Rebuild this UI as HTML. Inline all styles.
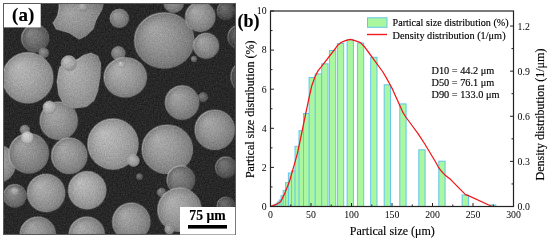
<!DOCTYPE html>
<html><head><meta charset="utf-8"><style>
html,body{margin:0;padding:0;background:#fff;width:550px;height:242px;overflow:hidden}
svg{display:block;will-change:transform}
text{font-family:"Liberation Serif",serif;fill:#000;stroke:#000;stroke-width:0.15px}
.tl text{stroke:none;font-size:9.8px}
.bar{fill:#aaf7a0;stroke:#62c6ef;stroke-width:1}
</style></head><body>
<svg width="550" height="242" viewBox="0 0 550 242">
<defs>
<filter id="grain" x="0" y="0" width="1" height="1" color-interpolation-filters="sRGB"><feTurbulence type="fractalNoise" baseFrequency="0.75" numOctaves="2" seed="5" result="n"/><feColorMatrix in="n" type="matrix" values="0.33 0.33 0.33 0 0  0.33 0.33 0.33 0 0  0.33 0.33 0.33 0 0  0 0 0 0 1" result="g"/><feComposite in="SourceGraphic" in2="g" operator="arithmetic" k1="0" k2="1" k3="0.35" k4="-0.175"/></filter><clipPath id="semclip"><rect x="3.5" y="3.5" width="232" height="231"/></clipPath>
<linearGradient id="rim" x1="0" y1="0" x2="1" y2="1"><stop offset="0" stop-color="#fff" stop-opacity="0.45"/><stop offset="0.5" stop-color="#fff" stop-opacity="0.12"/><stop offset="1" stop-color="#000" stop-opacity="0.2"/></linearGradient><radialGradient id="g0" cx="0.5" cy="0.5" r="0.6" fx="0.3" fy="0.3"><stop offset="0" stop-color="#a4a4a4"/><stop offset="0.5" stop-color="#929292"/><stop offset="0.85" stop-color="#7e7e7e"/><stop offset="1" stop-color="#6e6e6e"/></radialGradient><radialGradient id="g1" cx="0.5" cy="0.5" r="0.5" fx="0.3" fy="0.28"><stop offset="0" stop-color="#b8b8b8"/><stop offset="0.5" stop-color="#a6a6a6"/><stop offset="0.85" stop-color="#929292"/><stop offset="1" stop-color="#828282"/></radialGradient><radialGradient id="g2" cx="0.5" cy="0.5" r="0.5" fx="0.3" fy="0.28"><stop offset="0" stop-color="#848484"/><stop offset="0.5" stop-color="#727272"/><stop offset="0.85" stop-color="#5e5e5e"/><stop offset="1" stop-color="#4e4e4e"/></radialGradient><radialGradient id="g3" cx="0.5" cy="0.5" r="0.5" fx="0.3" fy="0.28"><stop offset="0" stop-color="#909090"/><stop offset="0.5" stop-color="#7e7e7e"/><stop offset="0.85" stop-color="#6a6a6a"/><stop offset="1" stop-color="#5a5a5a"/></radialGradient><radialGradient id="g4" cx="0.5" cy="0.5" r="0.5" fx="0.3" fy="0.28"><stop offset="0" stop-color="#b8b8b8"/><stop offset="0.5" stop-color="#a6a6a6"/><stop offset="0.85" stop-color="#929292"/><stop offset="1" stop-color="#828282"/></radialGradient><radialGradient id="g5" cx="0.5" cy="0.5" r="0.5" fx="0.3" fy="0.28"><stop offset="0" stop-color="#a8a8a8"/><stop offset="0.5" stop-color="#969696"/><stop offset="0.85" stop-color="#828282"/><stop offset="1" stop-color="#727272"/></radialGradient><radialGradient id="g6" cx="0.5" cy="0.5" r="0.5" fx="0.3" fy="0.28"><stop offset="0" stop-color="#c8c8c8"/><stop offset="0.5" stop-color="#b6b6b6"/><stop offset="0.85" stop-color="#a2a2a2"/><stop offset="1" stop-color="#929292"/></radialGradient><radialGradient id="g7" cx="0.5" cy="0.5" r="0.6" fx="0.3" fy="0.3"><stop offset="0" stop-color="#b2b2b2"/><stop offset="0.5" stop-color="#a0a0a0"/><stop offset="0.85" stop-color="#8c8c8c"/><stop offset="1" stop-color="#7c7c7c"/></radialGradient><radialGradient id="g8" cx="0.5" cy="0.5" r="0.5" fx="0.3" fy="0.28"><stop offset="0" stop-color="#c0c0c0"/><stop offset="0.5" stop-color="#aeaeae"/><stop offset="0.85" stop-color="#9a9a9a"/><stop offset="1" stop-color="#8a8a8a"/></radialGradient><radialGradient id="g9" cx="0.5" cy="0.5" r="0.5" fx="0.3" fy="0.28"><stop offset="0" stop-color="#9c9c9c"/><stop offset="0.5" stop-color="#8a8a8a"/><stop offset="0.85" stop-color="#767676"/><stop offset="1" stop-color="#666666"/></radialGradient><radialGradient id="g10" cx="0.5" cy="0.5" r="0.5" fx="0.3" fy="0.28"><stop offset="0" stop-color="#989898"/><stop offset="0.5" stop-color="#868686"/><stop offset="0.85" stop-color="#727272"/><stop offset="1" stop-color="#626262"/></radialGradient><radialGradient id="g11" cx="0.5" cy="0.5" r="0.5" fx="0.3" fy="0.28"><stop offset="0" stop-color="#9c9c9c"/><stop offset="0.5" stop-color="#8a8a8a"/><stop offset="0.85" stop-color="#767676"/><stop offset="1" stop-color="#666666"/></radialGradient><radialGradient id="g12" cx="0.5" cy="0.5" r="0.5" fx="0.3" fy="0.28"><stop offset="0" stop-color="#a6a6a6"/><stop offset="0.5" stop-color="#949494"/><stop offset="0.85" stop-color="#808080"/><stop offset="1" stop-color="#707070"/></radialGradient><radialGradient id="g13" cx="0.5" cy="0.5" r="0.5" fx="0.3" fy="0.28"><stop offset="0" stop-color="#a8a8a8"/><stop offset="0.5" stop-color="#969696"/><stop offset="0.85" stop-color="#828282"/><stop offset="1" stop-color="#727272"/></radialGradient><radialGradient id="g14" cx="0.5" cy="0.5" r="0.5" fx="0.3" fy="0.28"><stop offset="0" stop-color="#a4a4a4"/><stop offset="0.5" stop-color="#929292"/><stop offset="0.85" stop-color="#7e7e7e"/><stop offset="1" stop-color="#6e6e6e"/></radialGradient><radialGradient id="g15" cx="0.5" cy="0.5" r="0.5" fx="0.3" fy="0.28"><stop offset="0" stop-color="#707070"/><stop offset="0.5" stop-color="#5e5e5e"/><stop offset="0.85" stop-color="#4a4a4a"/><stop offset="1" stop-color="#3a3a3a"/></radialGradient><radialGradient id="g16" cx="0.5" cy="0.5" r="0.5" fx="0.3" fy="0.28"><stop offset="0" stop-color="#686868"/><stop offset="0.5" stop-color="#565656"/><stop offset="0.85" stop-color="#424242"/><stop offset="1" stop-color="#323232"/></radialGradient><radialGradient id="g17" cx="0.5" cy="0.5" r="0.5" fx="0.3" fy="0.28"><stop offset="0" stop-color="#888888"/><stop offset="0.5" stop-color="#767676"/><stop offset="0.85" stop-color="#626262"/><stop offset="1" stop-color="#525252"/></radialGradient><radialGradient id="g18" cx="0.5" cy="0.5" r="0.5" fx="0.3" fy="0.28"><stop offset="0" stop-color="#b0b0b0"/><stop offset="0.5" stop-color="#9e9e9e"/><stop offset="0.85" stop-color="#8a8a8a"/><stop offset="1" stop-color="#7a7a7a"/></radialGradient><radialGradient id="g19" cx="0.5" cy="0.5" r="0.5" fx="0.3" fy="0.28"><stop offset="0" stop-color="#c8c8c8"/><stop offset="0.5" stop-color="#b6b6b6"/><stop offset="0.85" stop-color="#a2a2a2"/><stop offset="1" stop-color="#929292"/></radialGradient><radialGradient id="g20" cx="0.5" cy="0.5" r="0.5" fx="0.3" fy="0.28"><stop offset="0" stop-color="#a4a4a4"/><stop offset="0.5" stop-color="#929292"/><stop offset="0.85" stop-color="#7e7e7e"/><stop offset="1" stop-color="#6e6e6e"/></radialGradient><radialGradient id="g21" cx="0.5" cy="0.5" r="0.5" fx="0.3" fy="0.28"><stop offset="0" stop-color="#7e7e7e"/><stop offset="0.5" stop-color="#6c6c6c"/><stop offset="0.85" stop-color="#585858"/><stop offset="1" stop-color="#484848"/></radialGradient><radialGradient id="g22" cx="0.5" cy="0.5" r="0.5" fx="0.3" fy="0.28"><stop offset="0" stop-color="#707070"/><stop offset="0.5" stop-color="#5e5e5e"/><stop offset="0.85" stop-color="#4a4a4a"/><stop offset="1" stop-color="#3a3a3a"/></radialGradient><radialGradient id="g23" cx="0.5" cy="0.5" r="0.5" fx="0.3" fy="0.28"><stop offset="0" stop-color="#b0b0b0"/><stop offset="0.5" stop-color="#9e9e9e"/><stop offset="0.85" stop-color="#8a8a8a"/><stop offset="1" stop-color="#7a7a7a"/></radialGradient><radialGradient id="g24" cx="0.5" cy="0.5" r="0.5" fx="0.3" fy="0.28"><stop offset="0" stop-color="#989898"/><stop offset="0.5" stop-color="#868686"/><stop offset="0.85" stop-color="#727272"/><stop offset="1" stop-color="#626262"/></radialGradient><radialGradient id="g25" cx="0.5" cy="0.5" r="0.5" fx="0.3" fy="0.28"><stop offset="0" stop-color="#a2a2a2"/><stop offset="0.5" stop-color="#909090"/><stop offset="0.85" stop-color="#7c7c7c"/><stop offset="1" stop-color="#6c6c6c"/></radialGradient><radialGradient id="g26" cx="0.5" cy="0.5" r="0.5" fx="0.3" fy="0.28"><stop offset="0" stop-color="#d8d8d8"/><stop offset="0.5" stop-color="#c6c6c6"/><stop offset="0.85" stop-color="#b2b2b2"/><stop offset="1" stop-color="#a2a2a2"/></radialGradient><radialGradient id="g27" cx="0.5" cy="0.5" r="0.5" fx="0.3" fy="0.28"><stop offset="0" stop-color="#a8a8a8"/><stop offset="0.5" stop-color="#969696"/><stop offset="0.85" stop-color="#828282"/><stop offset="1" stop-color="#727272"/></radialGradient><radialGradient id="g28" cx="0.5" cy="0.5" r="0.5" fx="0.3" fy="0.28"><stop offset="0" stop-color="#bcbcbc"/><stop offset="0.5" stop-color="#aaaaaa"/><stop offset="0.85" stop-color="#969696"/><stop offset="1" stop-color="#868686"/></radialGradient><radialGradient id="g29" cx="0.5" cy="0.5" r="0.5" fx="0.3" fy="0.28"><stop offset="0" stop-color="#b8b8b8"/><stop offset="0.5" stop-color="#a6a6a6"/><stop offset="0.85" stop-color="#929292"/><stop offset="1" stop-color="#828282"/></radialGradient><radialGradient id="g30" cx="0.5" cy="0.5" r="0.5" fx="0.3" fy="0.28"><stop offset="0" stop-color="#acacac"/><stop offset="0.5" stop-color="#9a9a9a"/><stop offset="0.85" stop-color="#868686"/><stop offset="1" stop-color="#767676"/></radialGradient><radialGradient id="g31" cx="0.5" cy="0.5" r="0.5" fx="0.3" fy="0.28"><stop offset="0" stop-color="#a8a8a8"/><stop offset="0.5" stop-color="#969696"/><stop offset="0.85" stop-color="#828282"/><stop offset="1" stop-color="#727272"/></radialGradient><radialGradient id="g32" cx="0.5" cy="0.5" r="0.5" fx="0.3" fy="0.28"><stop offset="0" stop-color="#787878"/><stop offset="0.5" stop-color="#666666"/><stop offset="0.85" stop-color="#525252"/><stop offset="1" stop-color="#424242"/></radialGradient><radialGradient id="g33" cx="0.5" cy="0.5" r="0.5" fx="0.3" fy="0.28"><stop offset="0" stop-color="#8a8a8a"/><stop offset="0.5" stop-color="#787878"/><stop offset="0.85" stop-color="#646464"/><stop offset="1" stop-color="#545454"/></radialGradient><radialGradient id="g34" cx="0.5" cy="0.5" r="0.5" fx="0.3" fy="0.28"><stop offset="0" stop-color="#888888"/><stop offset="0.5" stop-color="#767676"/><stop offset="0.85" stop-color="#626262"/><stop offset="1" stop-color="#525252"/></radialGradient><radialGradient id="g35" cx="0.5" cy="0.5" r="0.5" fx="0.3" fy="0.28"><stop offset="0" stop-color="#787878"/><stop offset="0.5" stop-color="#666666"/><stop offset="0.85" stop-color="#525252"/><stop offset="1" stop-color="#424242"/></radialGradient><radialGradient id="g36" cx="0.5" cy="0.5" r="0.5" fx="0.3" fy="0.28"><stop offset="0" stop-color="#8e8e8e"/><stop offset="0.5" stop-color="#7c7c7c"/><stop offset="0.85" stop-color="#686868"/><stop offset="1" stop-color="#585858"/></radialGradient><radialGradient id="g37" cx="0.5" cy="0.5" r="0.5" fx="0.3" fy="0.28"><stop offset="0" stop-color="#b8b8b8"/><stop offset="0.5" stop-color="#a6a6a6"/><stop offset="0.85" stop-color="#929292"/><stop offset="1" stop-color="#828282"/></radialGradient><radialGradient id="g38" cx="0.5" cy="0.5" r="0.5" fx="0.3" fy="0.28"><stop offset="0" stop-color="#b0b0b0"/><stop offset="0.5" stop-color="#9e9e9e"/><stop offset="0.85" stop-color="#8a8a8a"/><stop offset="1" stop-color="#7a7a7a"/></radialGradient><radialGradient id="g39" cx="0.5" cy="0.5" r="0.5" fx="0.3" fy="0.28"><stop offset="0" stop-color="#bcbcbc"/><stop offset="0.5" stop-color="#aaaaaa"/><stop offset="0.85" stop-color="#969696"/><stop offset="1" stop-color="#868686"/></radialGradient><radialGradient id="g40" cx="0.5" cy="0.5" r="0.5" fx="0.3" fy="0.28"><stop offset="0" stop-color="#a4a4a4"/><stop offset="0.5" stop-color="#929292"/><stop offset="0.85" stop-color="#7e7e7e"/><stop offset="1" stop-color="#6e6e6e"/></radialGradient><radialGradient id="g41" cx="0.5" cy="0.5" r="0.5" fx="0.3" fy="0.28"><stop offset="0" stop-color="#aaaaaa"/><stop offset="0.5" stop-color="#989898"/><stop offset="0.85" stop-color="#848484"/><stop offset="1" stop-color="#747474"/></radialGradient><radialGradient id="g42" cx="0.5" cy="0.5" r="0.5" fx="0.3" fy="0.28"><stop offset="0" stop-color="#a8a8a8"/><stop offset="0.5" stop-color="#969696"/><stop offset="0.85" stop-color="#828282"/><stop offset="1" stop-color="#727272"/></radialGradient><radialGradient id="g43" cx="0.5" cy="0.5" r="0.5" fx="0.3" fy="0.28"><stop offset="0" stop-color="#b0b0b0"/><stop offset="0.5" stop-color="#9e9e9e"/><stop offset="0.85" stop-color="#8a8a8a"/><stop offset="1" stop-color="#7a7a7a"/></radialGradient><radialGradient id="g44" cx="0.5" cy="0.5" r="0.5" fx="0.3" fy="0.28"><stop offset="0" stop-color="#a8a8a8"/><stop offset="0.5" stop-color="#969696"/><stop offset="0.85" stop-color="#828282"/><stop offset="1" stop-color="#727272"/></radialGradient><radialGradient id="g45" cx="0.5" cy="0.5" r="0.5" fx="0.3" fy="0.28"><stop offset="0" stop-color="#707070"/><stop offset="0.5" stop-color="#5e5e5e"/><stop offset="0.85" stop-color="#4a4a4a"/><stop offset="1" stop-color="#3a3a3a"/></radialGradient>
</defs>
<!-- SEM panel -->
<g clip-path="url(#semclip)"><g filter="url(#grain)">
<rect x="3" y="3" width="233" height="232" fill="#282828"/>
<path d="M59,0 L105,0 L103.7,3.5 L102,10 L96.4,20 L93.5,29 L86.3,36 L80.5,39 L79,39.5 L76,37.6 L69,33 L62,31 L56,29 L53,23 L57.4,16 L59,8 Z" fill="url(#g0)" stroke="url(#rim)" stroke-width="1.2"/><ellipse cx="83" cy="7" rx="4.5" ry="4.5" fill="url(#g1)" stroke="url(#rim)" stroke-width="0.54"/><ellipse cx="35.3" cy="38.5" rx="13.7" ry="13.7" fill="url(#g2)" stroke="url(#rim)" stroke-width="1.60"/><ellipse cx="43.9" cy="53" rx="5" ry="5" fill="url(#g3)" stroke="url(#rim)" stroke-width="0.60"/><ellipse cx="28" cy="78" rx="25.5" ry="25.5" fill="url(#g4)" stroke="url(#rim)" stroke-width="1.60"/><ellipse cx="59" cy="121" rx="19" ry="19" fill="url(#g5)" stroke="url(#rim)" stroke-width="1.60"/><ellipse cx="49.5" cy="107.4" rx="6.5" ry="6.5" fill="url(#g6)" stroke="url(#rim)" stroke-width="0.78"/><path d="M60,66.7 L58.6,71.4 L57,82 L58.6,94.6 L63.3,104 L74,108.6 L86.5,107 L94.3,100.8 L98,91.5 L100.5,76 L101,63.6 L98,56 L91,53 L84,55 L78,59 Z" fill="url(#g7)" stroke="url(#rim)" stroke-width="1.2"/><ellipse cx="68.8" cy="63.3" rx="7.8" ry="7.8" fill="url(#g8)" stroke="url(#rim)" stroke-width="0.94"/><ellipse cx="119.5" cy="18.5" rx="9.5" ry="9.5" fill="url(#g9)" stroke="url(#rim)" stroke-width="1.14"/><ellipse cx="118.5" cy="53.5" rx="7" ry="7" fill="url(#g10)" stroke="url(#rim)" stroke-width="0.84"/><ellipse cx="174" cy="3" rx="10" ry="10" fill="url(#g11)" stroke="url(#rim)" stroke-width="1.20"/><ellipse cx="164.5" cy="40.7" rx="30" ry="28" fill="url(#g12)" stroke="url(#rim)" stroke-width="1.60"/><ellipse cx="200.5" cy="17" rx="15" ry="15" fill="url(#g13)" stroke="url(#rim)" stroke-width="1.60"/><ellipse cx="206.3" cy="46" rx="12.8" ry="12.8" fill="url(#g14)" stroke="url(#rim)" stroke-width="1.54"/><ellipse cx="226" cy="11" rx="9" ry="9" fill="url(#g15)" stroke="url(#rim)" stroke-width="1.08"/><ellipse cx="240" cy="37" rx="12" ry="12" fill="url(#g16)" stroke="url(#rim)" stroke-width="1.44"/><ellipse cx="194" cy="59" rx="3" ry="3" fill="url(#g17)" stroke="url(#rim)" stroke-width="0.36"/><ellipse cx="125.5" cy="77.5" rx="21.5" ry="20" fill="url(#g18)" stroke="url(#rim)" stroke-width="1.60"/><ellipse cx="121.3" cy="64.8" rx="3.3" ry="3.3" fill="url(#g19)" stroke="url(#rim)" stroke-width="0.40"/><ellipse cx="182.3" cy="102.7" rx="17" ry="17" fill="url(#g20)" stroke="url(#rim)" stroke-width="1.60"/><ellipse cx="203.2" cy="97.3" rx="4.8" ry="4.8" fill="url(#g21)" stroke="url(#rim)" stroke-width="0.58"/><ellipse cx="248" cy="77" rx="17" ry="17" fill="url(#g22)" stroke="url(#rim)" stroke-width="1.60"/><ellipse cx="-3" cy="164" rx="19" ry="19" fill="url(#g23)" stroke="url(#rim)" stroke-width="1.60"/><ellipse cx="25" cy="130" rx="5" ry="5" fill="url(#g24)" stroke="url(#rim)" stroke-width="0.60"/><ellipse cx="29" cy="153.5" rx="20" ry="20" fill="url(#g25)" stroke="url(#rim)" stroke-width="1.60"/><ellipse cx="27.5" cy="137.5" rx="6" ry="6" fill="url(#g26)" stroke="url(#rim)" stroke-width="0.72"/><ellipse cx="69.5" cy="156" rx="18" ry="18" fill="url(#g27)" stroke="url(#rim)" stroke-width="1.60"/><ellipse cx="113.2" cy="144.3" rx="25.5" ry="25.5" fill="url(#g28)" stroke="url(#rim)" stroke-width="1.60"/><ellipse cx="133.6" cy="160.7" rx="6" ry="6" fill="url(#g29)" stroke="url(#rim)" stroke-width="0.72"/><ellipse cx="167.5" cy="149.5" rx="25.5" ry="24.5" fill="url(#g30)" stroke="url(#rim)" stroke-width="1.60"/><ellipse cx="215" cy="130" rx="20" ry="20" fill="url(#g31)" stroke="url(#rim)" stroke-width="1.60"/><ellipse cx="226" cy="167.5" rx="10.5" ry="10.5" fill="url(#g32)" stroke="url(#rim)" stroke-width="1.26"/><ellipse cx="181" cy="180" rx="14" ry="14" fill="url(#g33)" stroke="url(#rim)" stroke-width="1.60"/><ellipse cx="161.6" cy="192.5" rx="4.5" ry="4.5" fill="url(#g34)" stroke="url(#rim)" stroke-width="0.54"/><ellipse cx="139.6" cy="176.8" rx="3.3" ry="3.3" fill="url(#g35)" stroke="url(#rim)" stroke-width="0.40"/><ellipse cx="15" cy="196" rx="11.5" ry="11.5" fill="url(#g36)" stroke="url(#rim)" stroke-width="1.38"/><ellipse cx="15" cy="191.5" rx="4" ry="4" fill="url(#g37)" stroke="url(#rim)" stroke-width="0.48"/><ellipse cx="46.3" cy="193.2" rx="19" ry="19" fill="url(#g38)" stroke="url(#rim)" stroke-width="1.60"/><ellipse cx="87.4" cy="190.5" rx="19" ry="19" fill="url(#g39)" stroke="url(#rim)" stroke-width="1.60"/><ellipse cx="38" cy="235" rx="18" ry="18" fill="url(#g40)" stroke="url(#rim)" stroke-width="1.60"/><ellipse cx="87" cy="235" rx="18" ry="18" fill="url(#g41)" stroke="url(#rim)" stroke-width="1.60"/><ellipse cx="131.5" cy="222" rx="19" ry="19" fill="url(#g42)" stroke="url(#rim)" stroke-width="1.60"/><ellipse cx="179.7" cy="210" rx="22" ry="22" fill="url(#g43)" stroke="url(#rim)" stroke-width="1.60"/><ellipse cx="169.6" cy="229.5" rx="5" ry="5" fill="url(#g44)" stroke="url(#rim)" stroke-width="0.60"/><ellipse cx="226" cy="206" rx="9" ry="9" fill="url(#g45)" stroke="url(#rim)" stroke-width="1.08"/>
</g></g>
<rect x="3.5" y="3.5" width="232" height="231" fill="none" stroke="#5a5a5a" stroke-width="1"/>
<rect x="4" y="4" width="36.7" height="23.4" fill="#fff"/>
<text x="23.2" y="21.3" text-anchor="middle" style="font-size:19px;font-weight:bold;fill:#000">(a)</text>
<rect x="180" y="207" width="55.2" height="27.5" fill="#fff"/>
<text x="207.5" y="220.3" text-anchor="middle" style="font-size:13.7px;font-weight:bold;fill:#000">75 μm</text>
<rect x="188" y="225" width="39" height="3.6" fill="#000"/>
<!-- chart -->
<g><rect x="271.65" y="205.90" width="6.30" height="0.60" class="bar"/><rect x="272.54" y="205.50" width="6.30" height="1.00" class="bar"/><rect x="273.55" y="205.10" width="6.30" height="1.40" class="bar"/><rect x="274.70" y="204.40" width="6.30" height="2.10" class="bar"/><rect x="275.99" y="203.30" width="6.30" height="3.20" class="bar"/><rect x="277.47" y="202.00" width="6.30" height="4.50" class="bar"/><rect x="279.14" y="200.00" width="6.30" height="6.50" class="bar"/><rect x="281.03" y="195.70" width="6.30" height="10.80" class="bar"/><rect x="283.18" y="190.40" width="6.30" height="16.10" class="bar"/><rect x="285.61" y="182.60" width="6.30" height="23.90" class="bar"/><rect x="288.37" y="173.00" width="6.30" height="33.50" class="bar"/><rect x="291.49" y="171.00" width="6.30" height="35.50" class="bar"/><rect x="295.00" y="146.30" width="6.30" height="60.20" class="bar"/><rect x="299.00" y="130.70" width="6.30" height="75.80" class="bar"/><rect x="303.50" y="113.50" width="6.30" height="93.00" class="bar"/><rect x="309.10" y="77.50" width="6.30" height="129.00" class="bar"/><rect x="315.20" y="73.90" width="6.30" height="132.60" class="bar"/><rect x="321.70" y="63.80" width="6.30" height="142.70" class="bar"/><rect x="329.40" y="50.50" width="6.30" height="156.00" class="bar"/><rect x="337.40" y="43.50" width="6.30" height="163.00" class="bar"/><rect x="347.10" y="39.70" width="6.30" height="166.80" class="bar"/><rect x="357.40" y="43.10" width="6.30" height="163.40" class="bar"/><rect x="370.70" y="57.30" width="6.30" height="149.20" class="bar"/><rect x="384.20" y="84.80" width="6.30" height="121.70" class="bar"/><rect x="399.80" y="103.90" width="6.30" height="102.60" class="bar"/><rect x="418.80" y="149.80" width="6.30" height="56.70" class="bar"/><rect x="438.80" y="161.20" width="6.30" height="45.30" class="bar"/><rect x="462.10" y="195.00" width="6.30" height="11.50" class="bar"/><rect x="489.50" y="205.00" width="6.30" height="1.50" class="bar"/></g>
<polyline points="271.3,206.0 272.6,205.7 276.6,204.3 278.8,203.0 280.8,201.4 284.3,194.4 287.7,186.0 289.9,180.0 291.3,175.0 294.2,164.8 297.5,153.2 301.3,135.0 305.1,116.5 309.3,96.7 311.7,86.0 315.0,76.7 318.1,70.6 321.2,66.9 335.8,48.0 337.1,45.9 341.3,42.3 345.4,40.7 350.2,39.4 355.0,40.6 360.5,42.6 364.0,46.2 368.0,51.5 382.9,72.0 386.8,78.6 389.3,83.2 392.6,89.4 400.7,107.5 402.9,112.4 405.8,117.0 412.4,126.0 418.2,133.9 424.8,144.0 435.6,162.0 438.3,167.0 441.9,171.8 444.9,174.9 450.7,179.6 465.5,194.6 468.4,195.6 489.3,205.3 491.6,206.3" fill="none" stroke="#f01818" stroke-width="1.25" stroke-linejoin="round"/>
<g stroke="#222" stroke-width="1"><line x1="270.5" y1="206.50" x2="274.0" y2="206.50"/><line x1="270.5" y1="186.95" x2="272.5" y2="186.95"/><line x1="270.5" y1="167.40" x2="274.0" y2="167.40"/><line x1="270.5" y1="147.85" x2="272.5" y2="147.85"/><line x1="270.5" y1="128.30" x2="274.0" y2="128.30"/><line x1="270.5" y1="108.75" x2="272.5" y2="108.75"/><line x1="270.5" y1="89.20" x2="274.0" y2="89.20"/><line x1="270.5" y1="69.65" x2="272.5" y2="69.65"/><line x1="270.5" y1="50.10" x2="274.0" y2="50.10"/><line x1="270.5" y1="30.55" x2="272.5" y2="30.55"/><line x1="270.5" y1="11.00" x2="274.0" y2="11.00"/><line x1="270.50" y1="206.5" x2="270.50" y2="203.0"/><line x1="290.75" y1="206.5" x2="290.75" y2="204.5"/><line x1="311.00" y1="206.5" x2="311.00" y2="203.0"/><line x1="331.25" y1="206.5" x2="331.25" y2="204.5"/><line x1="351.50" y1="206.5" x2="351.50" y2="203.0"/><line x1="371.75" y1="206.5" x2="371.75" y2="204.5"/><line x1="392.00" y1="206.5" x2="392.00" y2="203.0"/><line x1="412.25" y1="206.5" x2="412.25" y2="204.5"/><line x1="432.50" y1="206.5" x2="432.50" y2="203.0"/><line x1="452.75" y1="206.5" x2="452.75" y2="204.5"/><line x1="473.00" y1="206.5" x2="473.00" y2="203.0"/><line x1="493.25" y1="206.5" x2="493.25" y2="204.5"/><line x1="513.50" y1="206.5" x2="513.50" y2="203.0"/><line x1="513.5" y1="206.50" x2="510.0" y2="206.50"/><line x1="513.5" y1="183.94" x2="511.5" y2="183.94"/><line x1="513.5" y1="161.38" x2="510.0" y2="161.38"/><line x1="513.5" y1="138.83" x2="511.5" y2="138.83"/><line x1="513.5" y1="116.27" x2="510.0" y2="116.27"/><line x1="513.5" y1="93.71" x2="511.5" y2="93.71"/><line x1="513.5" y1="71.15" x2="510.0" y2="71.15"/><line x1="513.5" y1="48.60" x2="511.5" y2="48.60"/><line x1="513.5" y1="26.04" x2="510.0" y2="26.04"/></g>
<rect x="270.5" y="11.0" width="243.0" height="195.5" fill="none" stroke="#222" stroke-width="1.2"/>
<g class="tl"><text x="266.6" y="209.80" text-anchor="end">0</text><text x="266.6" y="170.70" text-anchor="end">2</text><text x="266.6" y="131.60" text-anchor="end">4</text><text x="266.6" y="92.50" text-anchor="end">6</text><text x="266.6" y="53.40" text-anchor="end">8</text><text x="266.6" y="14.30" text-anchor="end">10</text><text x="270.50" y="218" text-anchor="middle">0</text><text x="311.00" y="218" text-anchor="middle">50</text><text x="351.50" y="218" text-anchor="middle">100</text><text x="392.00" y="218" text-anchor="middle">150</text><text x="432.50" y="218" text-anchor="middle">200</text><text x="473.00" y="218" text-anchor="middle">250</text><text x="513.50" y="218" text-anchor="middle">300</text><text x="517.6" y="210.20">0.0</text><text x="517.6" y="165.08">0.3</text><text x="517.6" y="119.97">0.6</text><text x="517.6" y="74.85">0.9</text><text x="517.6" y="29.74">1.2</text></g>
<text transform="translate(254.2,109.3) rotate(-90)" text-anchor="middle" style="font-size:12px">Partical size distribution (%)</text>
<text transform="translate(544.4,114.5) rotate(-90)" text-anchor="middle" style="font-size:12px">Density distribution (1/μm)</text>
<text x="392.5" y="235" style="font-size:12px" text-anchor="start" transform="translate(-42.7,0)">Partical size (μm)</text>
<rect x="367.5" y="17.8" width="19.5" height="9.5" class="bar"/>
<line x1="367" y1="34.5" x2="387" y2="34.5" stroke="#f21c1c" stroke-width="1.4"/>
<text x="392.5" y="26.4" style="font-size:10.15px">Partical size distribution (%)</text>
<text x="392.5" y="38.7" style="font-size:10.3px">Density distribution (1/μm)</text>
<text x="431.5" y="73.6" style="font-size:10.3px">D10 = 44.2 μm</text>
<text x="431.5" y="86" style="font-size:10.3px">D50 = 76.1 μm</text>
<text x="431.5" y="98.4" style="font-size:10.3px">D90 = 133.0 μm</text>
<text x="237.5" y="27.3" style="font-size:18px;font-weight:bold;fill:#000">(b)</text>
</svg>
</body></html>
